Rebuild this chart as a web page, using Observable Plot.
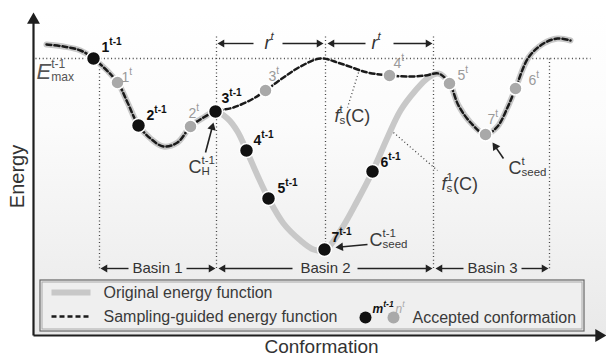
<!DOCTYPE html>
<html><head><meta charset="utf-8">
<script src="https://cdn.jsdelivr.net/npm/d3@7"></script>
<script src="https://cdn.jsdelivr.net/npm/@observablehq/plot@0.6"></script>
<style>
html,body{margin:0;padding:0;background:#fff;}
</style>
</head><body>
<div id="chart"></div>
<script>
const FONT = "'Liberation Sans', Arial, Helvetica, sans-serif";

// ---- Energy landscape (conformation units, energy units) ----
const basin1Conf = [13, 30, 47, 60, 84, 94, 105, 117, 130, 144, 157, 170, 182];
const basin1Energy = [290, 288, 284, 276, 252, 232, 209, 196, 188, 192, 208, 217, 223];

const basin2OriginalConf = [194, 204, 213, 224, 235, 250, 267, 280, 291, 307, 324, 339, 354, 367, 382, 395, 405];
const basin2OriginalEnergy = [216, 203, 184, 159, 136, 111, 94, 85, 84, 104, 134, 163, 197, 224, 244, 257, 261];

const basin2GuidedConf = [200, 220, 232, 250, 267, 287, 307, 334, 356, 377, 392, 405];
const basin2GuidedEnergy = [227, 236, 244, 257, 268, 276, 271, 262, 259, 258, 259, 261];

const basin3Conf = [416, 425, 437, 452, 464, 474, 482, 495, 510, 524, 537];
const basin3Energy = [251, 229, 212, 200, 208, 227, 246, 277, 291, 296, 294];

// ---- Accepted conformations ----
const prevLabels = ["1", "2", "3", "4", "5", "6", "7"];
const prevConf = [60, 105, 182, 213, 235, 339, 291];
const prevEnergy = [276, 209, 223, 184, 136, 163, 85];
const prevLabelConf = [68, 113, 188, 220, 244, 347, 298];
const prevLabelEnergy = [287, 219, 236, 194, 146, 172, 97];

const currLabels = ["1", "2", "3", "4", "5", "6", "7"];
const currConf = [84, 157, 232, 356, 416, 482, 452];
const currEnergy = [252, 208, 244, 259, 251, 246, 200];
const currLabelConf = [88, 155, 235, 360, 424, 495, 454];
const currLabelEnergy = [257, 221, 258, 271, 259, 254, 215];

// ---- Guides ----
const eMax = 276;
const basinBounds = [66, 183, 292, 400, 516];
const boundTop = [276, 298, 298, 298, 276];
const boundBottom = [66, 66, 91, 66, 66];
const leaderLines = [
  {x1: 325, y1: 262, x2: 314, y2: 227},
  {x1: 360, y1: 202, x2: 404, y2: 164}
];
const spanArrows = [
  {x1: 220, y1: 291, x2: 184, y2: 291}, {x1: 249, y1: 291, x2: 290, y2: 291},
  {x1: 332, y1: 291, x2: 294, y2: 291}, {x1: 360, y1: 291, x2: 399, y2: 291},
  {x1: 95, y1: 66, x2: 67, y2: 66}, {x1: 153, y1: 66, x2: 182, y2: 66},
  {x1: 259, y1: 66, x2: 185, y2: 66}, {x1: 324, y1: 66, x2: 399, y2: 66},
  {x1: 430, y1: 66, x2: 402, y2: 66}, {x1: 488, y1: 66, x2: 515, y2: 66}
];
const pointerArrows = [
  {x1: 172, y1: 182, x2: 180, y2: 212},
  {x1: 334, y1: 90, x2: 302, y2: 87},
  {x1: 470, y1: 176, x2: 459, y2: 192}
];
const axisArrows = [
  {x1: 0, y1: -1, x2: 0, y2: 322},
  {x1: 0, y1: -1, x2: 573, y2: -1}
];
const basinNames = ["Basin 1", "Basin 2", "Basin 3"];
const basinLabelConf = [124, 292, 459];
const rLabelConf = [231, 338];

const symbolLabels = [
  {text: "C_{H}^{t-1}", conf: 155, energy: 167},
  {text: "C^{t-1}_{seed}", conf: 336, energy: 94},
  {text: "C^{t}_{seed}", conf: 475, energy: 166},
  {text: "*f*_{s}^{t}(C)", conf: 301, energy: 218},
  {text: "*f*_{s}^{1}(C)", conf: 408, energy: 150}
];

const plotRegion = [{x1: 0, x2: 573, y1: -1, y2: 322}];
const legendBox = [{x1: 7, x2: 551, y1: 3, y2: 54}];
const legendInner = [{x1: 9, x2: 549, y1: 5, y2: 52}];
const legendItems = ["Original energy function", "Sampling-guided energy function", "Accepted conformation"];

// ---- Build tables ----
const zip = (xs, ys) => xs.map((x, i) => ({conf: x, energy: ys[i]}));
const originalCurve = [
  ...zip(basin1Conf, basin1Energy),
  ...zip(basin2OriginalConf, basin2OriginalEnergy),
  ...zip(basin3Conf, basin3Energy)
];
const guidedCurve = [
  ...zip(basin1Conf, basin1Energy),
  ...zip(basin2GuidedConf, basin2GuidedEnergy),
  ...zip(basin3Conf, basin3Energy)
];
const prevPts = prevLabels.map((l, i) => ({conf: prevConf[i], energy: prevEnergy[i], lc: prevLabelConf[i], le: prevLabelEnergy[i], label: l + "^{t-1}"}));
const currPts = currLabels.map((l, i) => ({conf: currConf[i], energy: currEnergy[i], lc: currLabelConf[i], le: currLabelEnergy[i], label: l + "^{t}"}));
const dotted = [
  {x1: 2, y1: eMax, x2: 557, y2: eMax},
  ...basinBounds.map((b, i) => ({x1: b, y1: boundTop[i], x2: b, y2: boundBottom[i]})),
  ...leaderLines
];

function arrowMarks(list, {stroke = "#222", strokeWidth = 1.4, r = 3} = {}) {
  const size = Math.PI * r * r;
  const tip = 2 * Math.sqrt(size / (3 * Math.sqrt(3)));
  const heads = list.map(a => {
    const dx = a.x2 - a.x1, dy = a.y2 - a.y1, L = Math.hypot(dx, dy);
    return {x: a.x2 - dx / L * tip, y: a.y2 - dy / L * tip, angle: Math.atan2(dx, dy) * 180 / Math.PI};
  });
  return [
    Plot.link(list.map((a, i) => ({x1: a.x1, y1: a.y1, x2: heads[i].x, y2: heads[i].y})),
      {x1: "x1", y1: "y1", x2: "x2", y2: "y2", stroke, strokeWidth}),
    Plot.dot(heads, {x: "x", y: "y", symbol: "triangle", r, fill: stroke, stroke: "none", rotate: "angle"})
  ];
}

const chart = Plot.plot({
  width: 606, height: 357, margin: 0,
  x: {domain: [-33, 573], axis: null},
  y: {domain: [-23, 334], axis: null},
  style: {fontFamily: FONT, background: "#fff", overflow: "visible"},
  marks: [
    Plot.rect(plotRegion, {x1: "x1", x2: "x2", y1: "y1", y2: "y2", fill: "url(#bgGrad)"}),
    Plot.link(dotted, {x1: "x1", y1: "y1", x2: "x2", y2: "y2", stroke: "#444", strokeWidth: 1.3, strokeDasharray: "1,2.6"}),
    Plot.line(originalCurve, {x: "conf", y: "energy", curve: "catmull-rom", stroke: "#c8c8c8", strokeWidth: 6, strokeLinecap: "round", strokeLinejoin: "round"}),
    Plot.line(guidedCurve, {x: "conf", y: "energy", curve: "catmull-rom", stroke: "#1a1a1a", strokeWidth: 2.5, strokeDasharray: "5,3"}),
    ...arrowMarks(spanArrows, {r: 2.9, strokeWidth: 1.4}),
    ...arrowMarks(pointerArrows, {r: 3.2, strokeWidth: 1.6}),
    ...arrowMarks(axisArrows, {r: 4.8, strokeWidth: 2.2, stroke: "#1e1e1e"}),
    Plot.dot(prevPts, {x: "conf", y: "energy", r: 7, fill: "#111", stroke: "#fff", strokeWidth: 1.5}),
    Plot.dot(currPts, {x: "conf", y: "energy", r: 6.5, fill: "#a9a9a9", stroke: "#fff", strokeWidth: 1.5}),
    Plot.text(prevPts, {x: "lc", y: "le", text: "label", textAnchor: "start", fontSize: 14, fontWeight: "bold", fill: "#111"}),
    Plot.text(currPts, {x: "lc", y: "le", text: "label", textAnchor: "start", fontSize: 14, fill: "#9a9a9a"}),
    Plot.text(["*E*^{t-1}_{max}"], {x: 3, y: 263, text: d => d, textAnchor: "start", fontSize: 22, fill: "#555"}),
    Plot.text(symbolLabels, {x: "conf", y: "energy", text: "text", textAnchor: "start", fontSize: 18, fill: "#3a3a3a"}),
    Plot.text(rLabelConf, {x: d => d, y: 291, text: () => "r^{t}", textAnchor: "start", fontSize: 18, fontStyle: "italic", fill: "#333"}),
    Plot.text(basinNames, {x: (d, i) => basinLabelConf[i], y: 66, text: d => d, fontSize: 15, fill: "#333"}),
    // legend
    Plot.rect(legendBox, {x1: "x1", x2: "x2", y1: "y1", y2: "y2", fill: "#efefef", stroke: "#666", strokeWidth: 1.2}),
    Plot.rect(legendInner, {x1: "x1", x2: "x2", y1: "y1", y2: "y2", fill: "none", stroke: "#aaa", strokeWidth: 1}),
    Plot.link([{x1: 18, x2: 57, y: 42}], {x1: "x1", x2: "x2", y1: "y", y2: "y", stroke: "#c8c8c8", strokeWidth: 6}),
    Plot.link([{x1: 18, x2: 57, y: 18}], {x1: "x1", x2: "x2", y1: "y", y2: "y", stroke: "#1a1a1a", strokeWidth: 2.5, strokeDasharray: "5,3"}),
    Plot.text([legendItems[0], legendItems[1]], {x: 70, y: (d, i) => i === 0 ? 42 : 18, text: d => d, textAnchor: "start", fontSize: 16, fill: "#3a3a3a"}),
    Plot.dot([{c: 332, e: 17}], {x: "c", y: "e", r: 6, fill: "#111"}),
    Plot.dot([{c: 360, e: 17}], {x: "c", y: "e", r: 6, fill: "#a9a9a9"}),
    Plot.text(["m^{t-1}"], {x: 339, y: 25, text: d => d, textAnchor: "start", fontSize: 12, fontWeight: "bold", fontStyle: "italic", fill: "#111"}),
    Plot.text(["n^{t}"], {x: 362, y: 25, text: d => d, textAnchor: "start", fontSize: 12, fontStyle: "italic", fill: "#a9a9a9"}),
    Plot.text([legendItems[2]], {x: 379, y: 17, text: d => d, textAnchor: "start", fontSize: 16, fill: "#3a3a3a"}),
    // axis titles
    Plot.text(["Energy"], {x: -16, y: 158, text: d => d, rotate: -90, fontSize: 20, fill: "#333"}),
    Plot.text(["Conformation"], {x: 288, y: -12, text: d => d, fontSize: 19, fill: "#333"})
  ]
});

document.getElementById("chart").appendChild(chart);

// gradient background
const NS = "http://www.w3.org/2000/svg";
const defs = document.createElementNS(NS, "defs");
defs.innerHTML = '<linearGradient id="bgGrad" x1="0" y1="0" x2="0" y2="1"><stop offset="0" stop-color="#ffffff"/><stop offset="0.35" stop-color="#fbfbfb"/><stop offset="1" stop-color="#e9e9e9"/></linearGradient>';
chart.insertBefore(defs, chart.firstChild);

// rich text: ^{sup}, _{sub}, *italic*
function richify(svg) {
  svg.querySelectorAll("text").forEach(t => {
    const src = t.textContent;
    if (!/[\^_*]/.test(src)) return;
    const fs = parseFloat(getComputedStyle(t).fontSize);
    const ratio = fs >= 21 ? 0.55 : fs < 15 ? 0.72 : 0.64;
    const tokens = src.match(/\^\{[^}]*\}|_\{[^}]*\}|\*[^*]*\*|[^\^_*]+/g) || [];
    t.textContent = "";
    let offset = 0, prev = null, pending = 0;
    for (const tok of tokens) {
      const ts = document.createElementNS(NS, "tspan");
      let kind = "base", content = tok, target = 0;
      if (tok.startsWith("^{")) { kind = "sup"; content = tok.slice(2, -1); target = -0.5 * fs; }
      else if (tok.startsWith("_{")) { kind = "sub"; content = tok.slice(2, -1); target = 0.1 * fs; }
      else if (tok.startsWith("*")) { content = tok.slice(1, -1); ts.setAttribute("font-style", "italic"); }
      if (kind !== "base") ts.setAttribute("font-size", (ratio * fs).toFixed(2));
      if (kind === "sub") ts.setAttribute("font-style", "normal");
      ts.textContent = content;
      const dy = target - offset;
      if (Math.abs(dy) > 0.01) ts.setAttribute("dy", dy.toFixed(2));
      offset = target;
      const stacked = prev && kind !== "base" && (prev.kind === "sup" || prev.kind === "sub") && prev.kind !== kind;
      const dx = stacked ? -prev.len : pending;
      if (Math.abs(dx) > 0.01) ts.setAttribute("dx", dx.toFixed(2));
      t.appendChild(ts);
      const len = ts.getComputedTextLength();
      if (stacked) { pending = Math.max(0, prev.len - len); prev = {kind: "stack", len}; }
      else { pending = 0; prev = {kind, len}; }
    }
  });
}
richify(chart);
</script>
</body></html>
